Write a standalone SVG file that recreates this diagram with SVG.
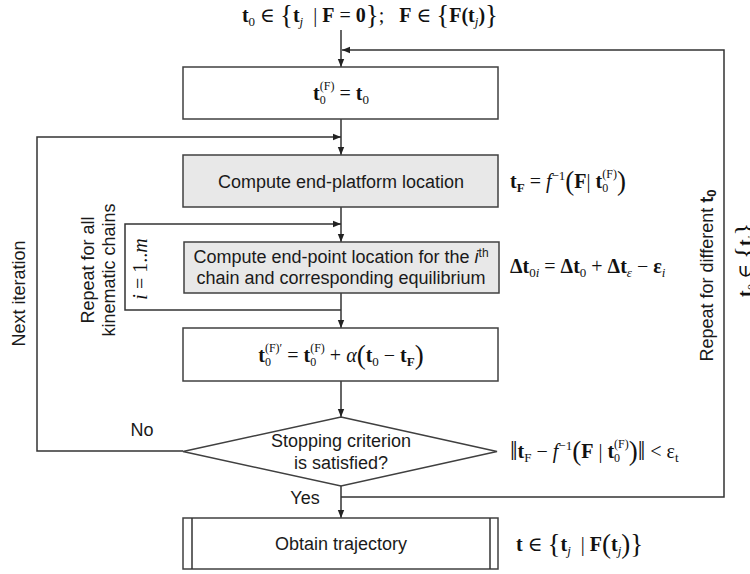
<svg xmlns="http://www.w3.org/2000/svg" width="750" height="574" viewBox="0 0 750 574">
<style>
.box{fill:#fff;stroke:#404040;stroke-width:1.5}
.gray{fill:#e8e8e8}
.ln{fill:none;stroke:#333;stroke-width:1.5}
.t{font-family:"Liberation Sans",Arial,sans-serif;font-size:18px;fill:#1a1a1a}
.m{font-family:"Liberation Serif","DejaVu Serif",serif;font-size:20px;fill:#111}
.b{font-weight:bold}
.i{font-style:italic}
.s{font-size:13px}
.u{font-size:12px}
.br{font-size:27px}
</style>
<defs>
<marker id="ah" viewBox="0 0 10 10" refX="10" refY="5" markerWidth="8" markerHeight="8" markerUnits="userSpaceOnUse" orient="auto">
<path d="M0,1 L10,5 L0,9 z" fill="#222"/>
</marker>
</defs>
<g id="connectors">
<path class="ln" d="M341,30 V67" marker-end="url(#ah)"/>
<path class="ln" d="M341,497 H724 V50 H342" marker-end="url(#ah)"/>
<path class="ln" d="M341,119 V155" marker-end="url(#ah)"/>
<path class="ln" d="M183,451 H37 V137 H341" marker-end="url(#ah)"/>
<path class="ln" d="M341,207 V242" marker-end="url(#ah)"/>
<path class="ln" d="M341,310 H125 V224 H341" marker-end="url(#ah)"/>
<path class="ln" d="M341,293 V328" marker-end="url(#ah)"/>
<path class="ln" d="M341,381 V417" marker-end="url(#ah)"/>
<path class="ln" d="M341,486 V518" marker-end="url(#ah)"/>
</g>
<g id="top-formula">
<text class="m" x="370" y="22" text-anchor="middle"><tspan class="b">t</tspan><tspan class="s" dy="4">0</tspan><tspan dy="-4"> ∈ </tspan><tspan class="br" dy="2">{</tspan><tspan class="b" dy="-2">t</tspan><tspan class="s i" dy="4">j</tspan><tspan dy="-4">&#160;&#160;| </tspan><tspan class="b">F</tspan><tspan> = </tspan><tspan class="b">0</tspan><tspan class="br" dy="2">}</tspan><tspan dy="-2">;&#160;&#160; </tspan><tspan class="b">F</tspan><tspan> ∈ </tspan><tspan class="br" dy="2">{</tspan><tspan class="b" dy="-2">F(t</tspan><tspan class="s i" dy="4">j</tspan><tspan class="b" dy="-4">)</tspan><tspan class="br" dy="2">}</tspan></text>
</g>
<g id="init">
<rect class="box" x="183" y="67" width="315" height="52"/>
<text class="m" x="341" y="100" text-anchor="middle"><tspan class="b">t</tspan><tspan class="u" dy="4">0</tspan><tspan class="u" dx="-6" dy="-14">(F)</tspan><tspan dy="10"> = </tspan><tspan class="b">t</tspan><tspan class="s" dy="4">0</tspan></text>
</g>
<g id="platform">
<rect class="box gray" x="183" y="155" width="315" height="52"/>
<text class="t" x="341" y="188" text-anchor="middle">Compute end-platform location</text>
<text class="m" x="510" y="188"><tspan class="b">t</tspan><tspan class="s b" dy="4">F</tspan><tspan dy="-4"> = </tspan><tspan class="i">f</tspan><tspan class="s" dy="-8">−1</tspan><tspan class="br" dy="10">(</tspan><tspan class="b" dy="-2">F</tspan><tspan>| </tspan><tspan class="b">t</tspan><tspan class="u" dy="4">0</tspan><tspan class="u" dx="-6" dy="-14">(F)</tspan><tspan class="br" dy="12">)</tspan></text>
</g>
<g id="chain">
<rect class="box gray" x="184" y="242" width="315" height="51"/>
<text class="t" x="341" y="263" text-anchor="middle">Compute end-point location for the <tspan class="i">i</tspan><tspan font-size="12" dy="-6">th</tspan></text>
<text class="t" x="341" y="284" text-anchor="middle">chain and corresponding equilibrium</text>
<text class="m" x="510" y="273"><tspan class="b">Δt</tspan><tspan class="s" dy="4">0</tspan><tspan class="s i">i</tspan><tspan dy="-4"> = </tspan><tspan class="b">Δt</tspan><tspan class="s" dy="4">0</tspan><tspan dy="-4"> + </tspan><tspan class="b">Δt</tspan><tspan class="s i" dy="4">ε</tspan><tspan dy="-4"> − </tspan><tspan class="b">ε</tspan><tspan class="s i" dy="4">i</tspan></text>
</g>
<g id="update">
<rect class="box" x="183" y="328" width="315" height="53"/>
<text class="m" x="341" y="362" text-anchor="middle"><tspan class="b">t</tspan><tspan class="u" dy="4">0</tspan><tspan class="u" dx="-6" dy="-14">(F)′</tspan><tspan dy="10"> = </tspan><tspan class="b">t</tspan><tspan class="u" dy="4">0</tspan><tspan class="u" dx="-6" dy="-14">(F)</tspan><tspan dy="10"> + </tspan><tspan class="i">α</tspan><tspan class="br" dy="2">(</tspan><tspan class="b" dy="-2">t</tspan><tspan class="s" dy="4">0</tspan><tspan dy="-4"> − </tspan><tspan class="b">t</tspan><tspan class="s b" dy="4">F</tspan><tspan class="br" dy="-2">)</tspan></text>
</g>
<g id="decision">
<path class="box" d="M341,417 L497,451.5 L341,486 L183,451.5 Z"/>
<text class="t" x="341" y="447" text-anchor="middle">Stopping criterion</text>
<text class="t" x="341" y="469" text-anchor="middle">is satisfied?</text>
<text class="m" x="510" y="458"><tspan class="br" dy="2">‖</tspan><tspan class="b" dy="-2">t</tspan><tspan class="s" dy="4">F</tspan><tspan dy="-4"> − </tspan><tspan class="i">f</tspan><tspan class="s" dy="-8">−1</tspan><tspan class="br" dy="10">(</tspan><tspan class="b" dy="-2">F</tspan><tspan> | </tspan><tspan class="b">t</tspan><tspan class="u" dy="4">0</tspan><tspan class="u" dx="-6" dy="-14">(F)</tspan><tspan class="br" dy="12">)‖</tspan><tspan dy="-2"> &lt; ε</tspan><tspan class="s" dy="4">t</tspan></text>
</g>
<g id="result">
<rect class="box" x="183" y="518" width="315" height="51"/>
<line class="ln" x1="192" y1="518" x2="192" y2="569"/>
<line class="ln" x1="490" y1="518" x2="490" y2="569"/>
<text class="t" x="341" y="550" text-anchor="middle">Obtain trajectory</text>
<text class="m" x="516" y="551"><tspan class="b">t</tspan><tspan> ∈ </tspan><tspan class="br" dy="2">{</tspan><tspan class="b" dy="-2">t</tspan><tspan class="s i" dy="4">j</tspan><tspan dy="-4">&#160;&#160;| </tspan><tspan class="b">F</tspan><tspan class="br" dy="2">(</tspan><tspan class="b" dy="-2">t</tspan><tspan class="s i" dy="4">j</tspan><tspan class="br" dy="-2">)}</tspan></text>
</g>
<g id="labels">
<text class="t" x="142" y="436" text-anchor="middle">No</text>
<text class="t" x="305" y="504" text-anchor="middle">Yes</text>
<text class="t" transform="translate(25,293.5) rotate(-90)" text-anchor="middle">Next iteration</text>
<text class="t" transform="translate(94,270) rotate(-90)" text-anchor="middle">Repeat for all</text>
<text class="t" transform="translate(115,270) rotate(-90)" text-anchor="middle">kinematic chains</text>
<text class="m" transform="translate(147,269) rotate(-90)" text-anchor="middle"><tspan class="i">i</tspan> = 1..<tspan class="i">m</tspan></text>
<text class="t" transform="translate(713,275.5) rotate(-90)" text-anchor="middle">Repeat for different <tspan font-weight="bold">t</tspan><tspan font-size="13" font-weight="bold" dy="3">0</tspan></text>
<text class="m" transform="translate(752,297) rotate(-90)"><tspan class="b">t</tspan><tspan class="s" dy="4">0</tspan><tspan dy="-4"> ∈ </tspan><tspan class="br" dy="2">{</tspan><tspan class="b" dy="-2">t</tspan><tspan class="s i" dy="4">j</tspan><tspan class="br" dy="-2">}</tspan></text>
</g>
</svg>
